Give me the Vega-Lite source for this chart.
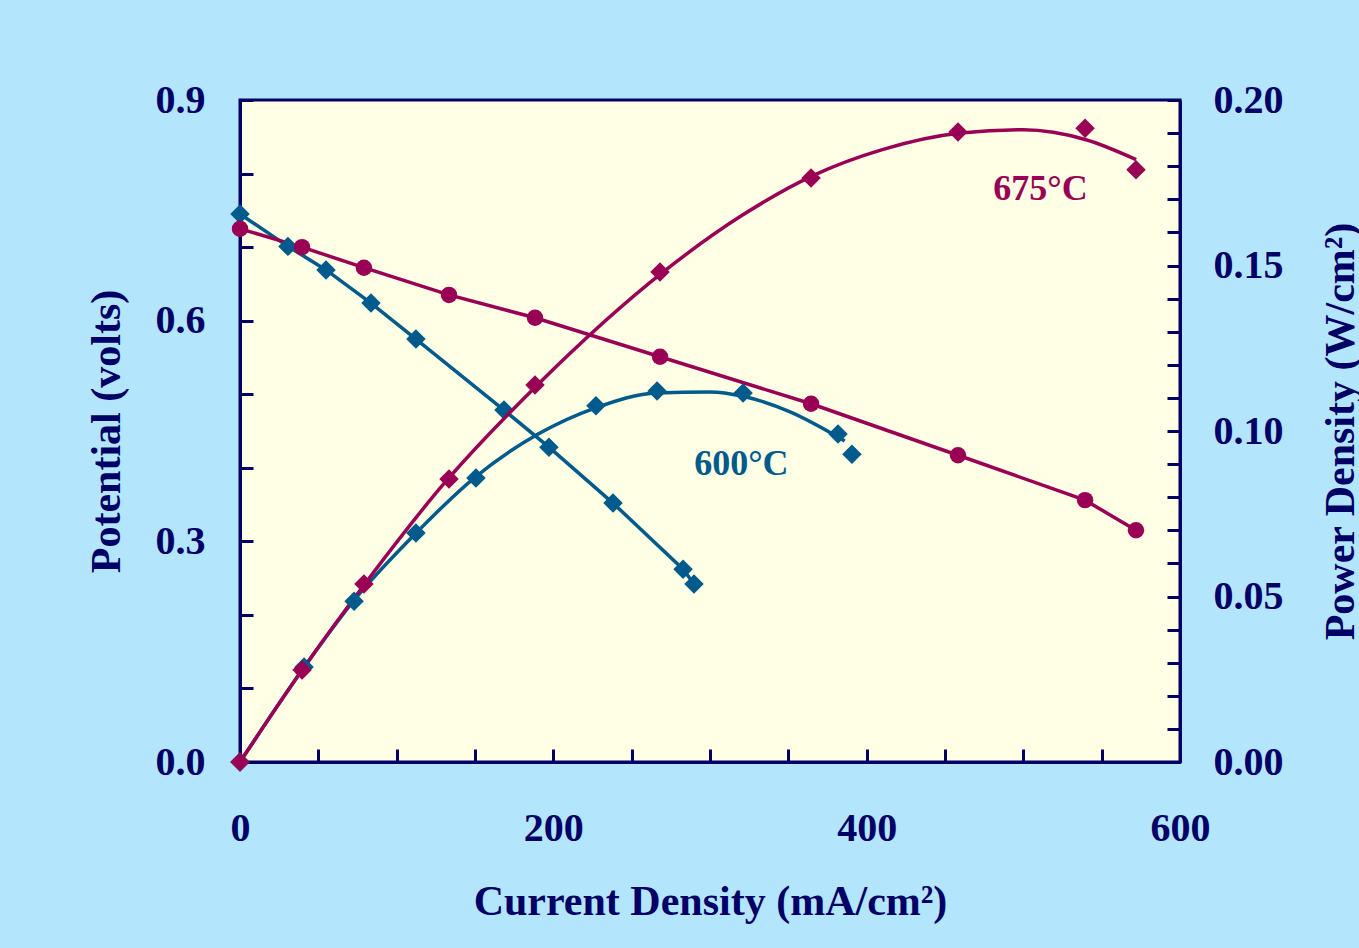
{
  "$schema": "https://vega.github.io/schema/vega-lite/v6.json",
  "width": 940,
  "height": 662,
  "autosize": {"type": "none"},
  "padding": {"left": 240, "top": 100, "right": 179, "bottom": 186},
  "background": "#b3e5fc",
  "config": {
    "view": {"fill": "#ffffe6", "stroke": "#000066", "strokeWidth": 3},
    "font": "Liberation Serif",
    "axis": {
      "grid": false,
      "domainColor": "#000066",
      "domainWidth": 3,
      "tickColor": "#000066",
      "tickWidth": 3,
      "tickSize": -13,
      "labelColor": "#000066",
      "titleColor": "#000066",
      "labelFont": "Liberation Serif",
      "titleFont": "Liberation Serif",
      "labelFontWeight": "bold",
      "titleFontWeight": "bold",
      "labelFontSize": 40,
      "titleFontSize": 42,
      "labelOverlap": false,
      "labelFlush": false
    }
  },
  "datasets": {
    "potential": [
      {"T": "600", "I": 0, "V": 0.745},
      {"T": "600", "I": 30.6, "V": 0.701},
      {"T": "600", "I": 54.9, "V": 0.669},
      {"T": "600", "I": 83.6, "V": 0.624},
      {"T": "600", "I": 112.3, "V": 0.575},
      {"T": "600", "I": 168.5, "V": 0.4785},
      {"T": "600", "I": 197.2, "V": 0.428},
      {"T": "600", "I": 238.1, "V": 0.352},
      {"T": "600", "I": 282.8, "V": 0.262},
      {"T": "600", "I": 289.8, "V": 0.242},
      {"T": "675", "I": 0, "V": 0.725},
      {"T": "675", "I": 39.6, "V": 0.700},
      {"T": "675", "I": 79.1, "V": 0.672},
      {"T": "675", "I": 133.4, "V": 0.635},
      {"T": "675", "I": 188.3, "V": 0.604},
      {"T": "675", "I": 268.1, "V": 0.551},
      {"T": "675", "I": 364.5, "V": 0.487},
      {"T": "675", "I": 458.3, "V": 0.417},
      {"T": "675", "I": 539.4, "V": 0.356},
      {"T": "675", "I": 571.9, "V": 0.315}
    ],
    "power": [
      {"T": "600", "I": 0, "P": 0},
      {"T": "600", "I": 40.9, "P": 0.0287},
      {"T": "600", "I": 72.8, "P": 0.0486},
      {"T": "600", "I": 112.3, "P": 0.0692},
      {"T": "600", "I": 150.6, "P": 0.0858},
      {"T": "600", "I": 227.2, "P": 0.1076},
      {"T": "600", "I": 266.2, "P": 0.1121},
      {"T": "600", "I": 321.1, "P": 0.1115},
      {"T": "600", "I": 381.7, "P": 0.0991},
      {"T": "600", "I": 390.6, "P": 0.0930},
      {"T": "675", "I": 0, "P": 0},
      {"T": "675", "I": 39.6, "P": 0.0278},
      {"T": "675", "I": 79.1, "P": 0.0538},
      {"T": "675", "I": 133.4, "P": 0.0855},
      {"T": "675", "I": 188.3, "P": 0.1139},
      {"T": "675", "I": 268.1, "P": 0.148},
      {"T": "675", "I": 364.5, "P": 0.1764},
      {"T": "675", "I": 458.3, "P": 0.1903},
      {"T": "675", "I": 539.4, "P": 0.1915},
      {"T": "675", "I": 571.9, "P": 0.1789}
    ],
    "powerfit": [
      {"T": "600", "I": 0, "P": 0},
      {"T": "600", "I": 40, "P": 0.028},
      {"T": "600", "I": 73, "P": 0.049},
      {"T": "600", "I": 112, "P": 0.069},
      {"T": "600", "I": 150, "P": 0.086},
      {"T": "600", "I": 190, "P": 0.099},
      {"T": "600", "I": 227, "P": 0.107},
      {"T": "600", "I": 266, "P": 0.1115},
      {"T": "600", "I": 300, "P": 0.1118},
      {"T": "600", "I": 321, "P": 0.1105},
      {"T": "600", "I": 350, "P": 0.106},
      {"T": "600", "I": 386, "P": 0.097},
      {"T": "675", "I": 0, "P": 0},
      {"T": "675", "I": 40, "P": 0.028},
      {"T": "675", "I": 80, "P": 0.054},
      {"T": "675", "I": 130, "P": 0.084},
      {"T": "675", "I": 190, "P": 0.114},
      {"T": "675", "I": 270, "P": 0.148},
      {"T": "675", "I": 320, "P": 0.165},
      {"T": "675", "I": 365, "P": 0.177},
      {"T": "675", "I": 410, "P": 0.185},
      {"T": "675", "I": 460, "P": 0.190},
      {"T": "675", "I": 500, "P": 0.191},
      {"T": "675", "I": 540, "P": 0.188},
      {"T": "675", "I": 572, "P": 0.182}
    ],
    "labels": [
      {"T": "600", "I": 320, "V": 0.390, "text": "600°C"},
      {"T": "675", "I": 511, "V": 0.764, "text": "675°C"}
    ]
  },
  "layer": [
    {
      "encoding": {
        "x": {
          "field": "I", "type": "quantitative",
          "scale": {"domain": [0, 600], "nice": false},
          "axis": {
            "title": "Current Density (mA/cm²)",
            "values": [0, 50, 100, 150, 200, 250, 300, 350, 400, 450, 500, 550, 600],
            "labelExpr": "datum.value % 200 == 0 ? datum.label : ''",
            "labelPadding": 59,
            "titlePadding": 33
          }
        },
        "y": {
          "field": "V", "type": "quantitative",
          "scale": {"domain": [0, 0.9], "nice": false},
          "axis": {
            "title": "Potential (volts)",
            "orient": "left",
            "values": [0, 0.1, 0.2, 0.3, 0.4, 0.5, 0.6, 0.7, 0.8, 0.9],
            "labelExpr": "round(datum.value * 10) % 3 == 0 ? format(datum.value, '.1f') : ''",
            "labelPadding": 48,
            "titlePadding": 27
          }
        },
        "color": {
          "field": "T", "type": "nominal",
          "scale": {"domain": ["600", "675"], "range": ["#005a8c", "#990055"]},
          "legend": null
        }
      },
      "layer": [
        {
          "data": {"name": "potential"},
          "mark": {"type": "line", "interpolate": "linear", "strokeWidth": 3.5}
        },
        {
          "data": {"name": "potential"},
          "mark": {"type": "point", "filled": true, "opacity": 1},
          "encoding": {
            "shape": {
              "field": "T", "type": "nominal",
              "scale": {"domain": ["600", "675"], "range": ["diamond", "circle"]},
              "legend": null
            },
            "size": {
              "field": "T", "type": "nominal",
              "scale": {"domain": ["600", "675"], "range": [380, 270]},
              "legend": null
            }
          }
        },
        {
          "data": {"name": "labels"},
          "mark": {"type": "text", "font": "Liberation Serif", "fontWeight": "bold", "fontSize": 36, "align": "center", "baseline": "alphabetic"},
          "encoding": {"text": {"field": "text"}}
        }
      ]
    },
    {
      "encoding": {
        "x": {
          "field": "I", "type": "quantitative",
          "scale": {"domain": [0, 600], "nice": false},
          "axis": {
            "title": "Current Density (mA/cm²)",
            "values": [0, 50, 100, 150, 200, 250, 300, 350, 400, 450, 500, 550, 600],
            "labelExpr": "datum.value % 200 == 0 ? datum.label : ''",
            "labelPadding": 59,
            "titlePadding": 33
          }
        },
        "y": {
          "field": "P", "type": "quantitative",
          "scale": {"domain": [0, 0.2], "nice": false},
          "axis": {
            "title": "Power Density (W/cm²)",
            "orient": "right",
            "values": [0, 0.01, 0.02, 0.03, 0.04, 0.05, 0.06, 0.07, 0.08, 0.09, 0.1, 0.11, 0.12, 0.13, 0.14, 0.15, 0.16, 0.17, 0.18, 0.19, 0.2],
            "labelExpr": "round(datum.value * 100) % 5 == 0 ? format(datum.value, '.2f') : ''",
            "labelPadding": 46,
            "titleAngle": -90,
            "titleBaseline": "top",
            "titlePadding": 37
          }
        },
        "color": {
          "field": "T", "type": "nominal",
          "scale": {"domain": ["600", "675"], "range": ["#005a8c", "#990055"]},
          "legend": null
        }
      },
      "layer": [
        {
          "data": {"name": "powerfit"},
          "mark": {"type": "line", "interpolate": "monotone", "strokeWidth": 3.5}
        },
        {
          "data": {"name": "power"},
          "mark": {"type": "point", "filled": true, "opacity": 1, "size": 380, "shape": "diamond"}
        }
      ]
    }
  ],
  "resolve": {"scale": {"y": "independent"}}
}
